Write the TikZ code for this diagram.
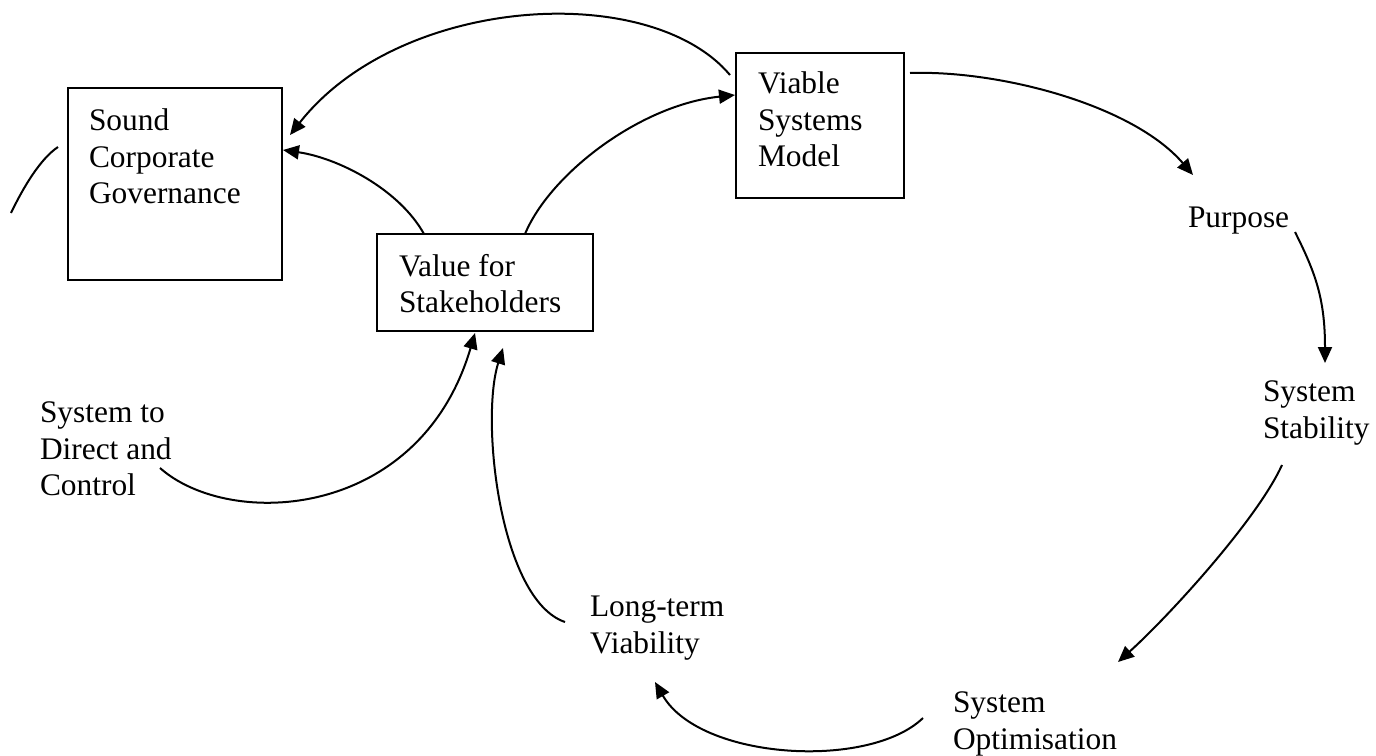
\documentclass[tikz,border=0pt]{standalone}
\usepackage{fontspec}
\setmainfont{Liberation Serif}
\usetikzlibrary{arrows.meta}
\begin{document}
\begin{tikzpicture}[x=0.5pt,y=-0.5pt,
  box/.style={draw, line width=1pt, inner sep=0pt, outer sep=0pt, anchor=north west},
  txt/.style={inner sep=0pt, outer sep=0pt, anchor=north west, align=left,
    font=\fontsize{15.7pt}{18.3pt}\selectfont},
  flow/.style={line width=1pt, -{Triangle[length=8pt,width=7pt]}},
  plain/.style={line width=1pt}]
\useasboundingbox (0,0) rectangle (1376,755);

% boxes
\node[box, minimum width=107pt, minimum height=96pt] (scg) at (68,88) {};
\node[box, minimum width=108pt, minimum height=48.5pt] (vfs) at (377,234) {};
\node[box, minimum width=84pt, minimum height=72.5pt] (vsm) at (736,53) {};

% texts
\node[txt] (scgtext) at (89,109) {Sound\\Corporate\\Governance};
\node[txt] (vfstext) at (399,254) {Value for\\Stakeholders};
\node[txt] (vsmtext) at (758,72) {Viable\\Systems\\Model};
\node[txt] (purpose) at (1188,207) {Purpose};
\node[txt] (stab) at (1263,381) {System\\Stability};
\node[txt] (opt) at (953,692) {System\\Optimisation};
\node[txt] (ltv) at (590,596) {Long-term\\Viability};
\node[txt] (sdc) at (40,402) {System to\\Direct and\\Control};

\coordinate (loopend) at (11,213);

% connectors
\draw[flow] ([shift={(-6,22)}]vsm.north west) .. controls +(-80,-95) and +(110,-140) .. ([shift={(8,47)}]scg.north east);
\draw[flow] ([shift={(47,0)}]vfs.north west) .. controls +(-25,-45) and +(55,8) .. ([shift={(1,62)}]scg.north east);
\draw[flow] ([shift={(148,0)}]vfs.north west) .. controls +(25,-60) and +(-95,10) .. ([shift={(-1,42)}]vsm.north west);
\draw[flow] ([shift={(6,20)}]vsm.north east) .. controls +(90,-3) and +(-60,-70) .. ([shift={(5,-32)}]purpose.north west);
\draw[flow] ([shift={(107,25)}]purpose.north west) .. controls +(20,40) and +(0,-65) .. ([shift={(62,-18)}]stab.north west);
\draw[flow] ([shift={(19,84)}]stab.north west) .. controls +(-25,55) and +(50,-45) .. ([shift={(165,-30)}]opt.north west);
\draw[flow] ([shift={(-30,26)}]opt.north west) .. controls +(-54,52) and +(45,78) .. ([shift={(65,86)}]ltv.north west);
\draw[flow] ([shift={(-25,26)}]ltv.north west) .. controls +(-65,-22) and +(-23,72) .. ([shift={(126,17)}]vfs.south west);
\draw[flow] ([shift={(120,66)}]sdc.north west) .. controls +(70,62) and +(-55,187) .. ([shift={(98,2)}]vfs.south west);
\draw[plain] ([shift={(-10,59)}]scg.north west) .. controls +(-18,12) and +(12,-25) .. (loopend);
\end{tikzpicture}
\end{document}
